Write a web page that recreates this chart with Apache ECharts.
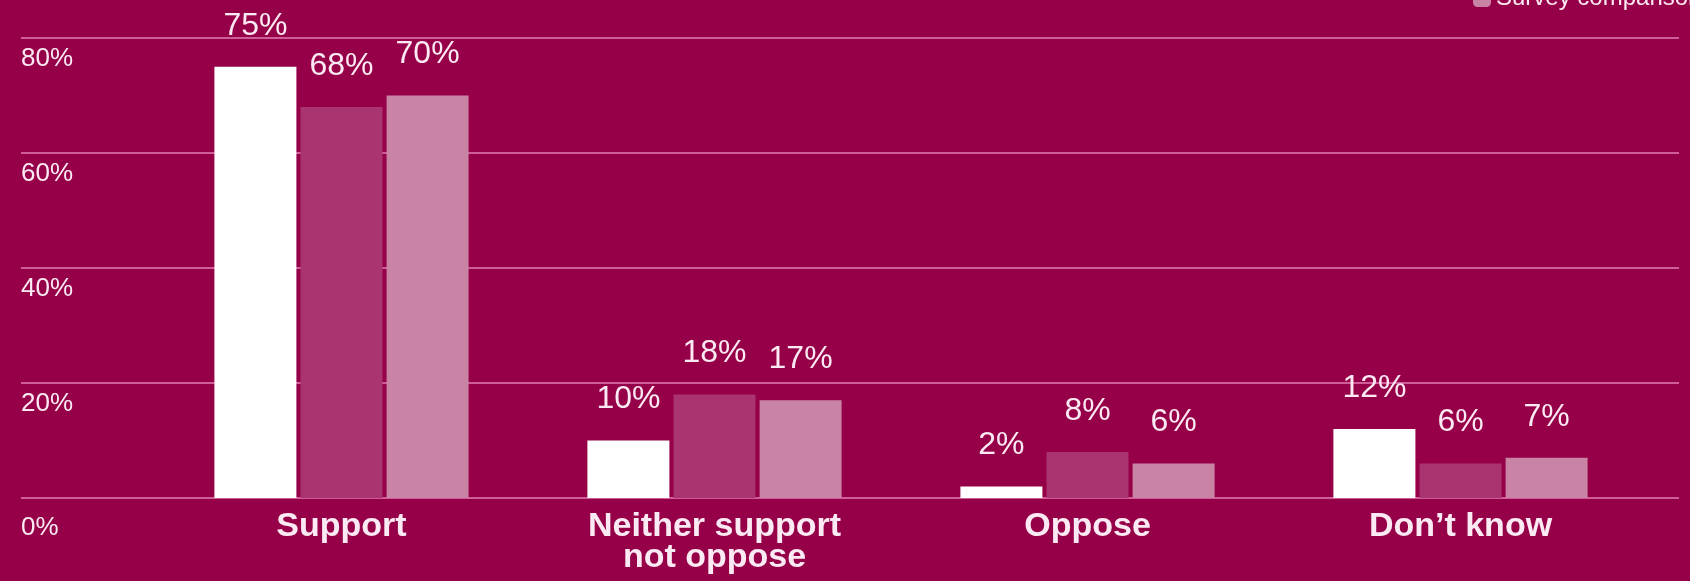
<!DOCTYPE html>
<html>
<head>
<meta charset="utf-8">
<script src="https://cdn.jsdelivr.net/npm/echarts@6/dist/echarts.min.js"></script>
<style>
  html, body { margin: 0; padding: 0; background: #960048; }
  #chart { width: 1690px; height: 581px; }
</style>
</head>
<body>
<div id="chart"></div>
<script>
// data
const categories = ['Support', 'Neither support\nnot oppose', 'Oppose', 'Don\u2019t know'];
const seriesNames = ['Group A', 'Group B', 'Survey comparison group'];
const valuesA = [75, 10, 2, 12];
const valuesB = [68, 18, 8, 6];
const valuesC = [70, 17, 6, 7];
const yTicks = [0, 20, 40, 60, 80];

const colors = ['#ffffff', '#a9346f', '#c984a5'];
const bg = '#960048';
const gridTop = 38, gridBottom = 83;

const chart = echarts.init(document.getElementById('chart'));

const barLabel = {
  show: true,
  position: 'top',
  distance: 22,
  formatter: '{c}%',
  color: '#fbeaf3',
  fontFamily: 'Liberation Sans',
  fontSize: 32,
  lineHeight: 38,
};

chart.setOption({
  backgroundColor: bg,
  animation: false,
  legend: {
    data: [seriesNames[2]],
    left: 1468,
    top: -19,
    itemWidth: 18,
    itemHeight: 18,
    itemGap: 10,
    textStyle: { color: '#fbeaf3', fontSize: 24, fontFamily: 'Liberation Sans' },
  },
  grid: [
    // full-width grid for gridlines and y labels
    { left: 21, right: 11, top: gridTop, bottom: gridBottom },
    // grid for the bars
    { left: 155, right: 43, top: gridTop, bottom: gridBottom },
  ],
  xAxis: [
    { gridIndex: 0, type: 'category', data: categories, show: false },
    {
      gridIndex: 1,
      type: 'category',
      data: categories,
      axisLine: { show: false },
      axisTick: { show: false },
      axisLabel: {
        margin: 13,
        color: '#fbeaf3',
        fontFamily: 'Liberation Sans',
        fontWeight: 'bold',
        fontSize: 34,
        lineHeight: 31,
      },
    },
  ],
  yAxis: [
    {
      gridIndex: 0,
      type: 'value',
      min: yTicks[0],
      max: yTicks[yTicks.length - 1],
      interval: 20,
      axisLine: { show: false },
      axisTick: { show: false },
      splitLine: { lineStyle: { color: '#cf5d97', width: 2 } },
      axisLabel: {
        inside: true,
        margin: 0,
        align: 'left',
        verticalAlign: 'top',
        formatter: (v) => (v === 0 ? '{z|0%}' : '{a|' + v + '%}'),
        rich: {
          a: { color: '#fbeaf3', fontSize: 26, fontFamily: 'Liberation Sans', lineHeight: 42 },
          z: { color: '#fbeaf3', fontSize: 26, fontFamily: 'Liberation Sans', lineHeight: 60 },
        },
      },
    },
    {
      gridIndex: 1,
      type: 'value',
      min: yTicks[0],
      max: yTicks[yTicks.length - 1],
      interval: 20,
      show: false,
      splitLine: { show: false },
    },
  ],
  series: [valuesA, valuesB, valuesC].map((vals, i) => ({
    name: seriesNames[i],
    type: 'bar',
    xAxisIndex: 1,
    yAxisIndex: 1,
    data: vals,
    barWidth: 82,
    barGap: '5%',
    itemStyle: { color: colors[i] },
    label: barLabel,
    z: 3,
  })),
});
</script>
</body>
</html>
